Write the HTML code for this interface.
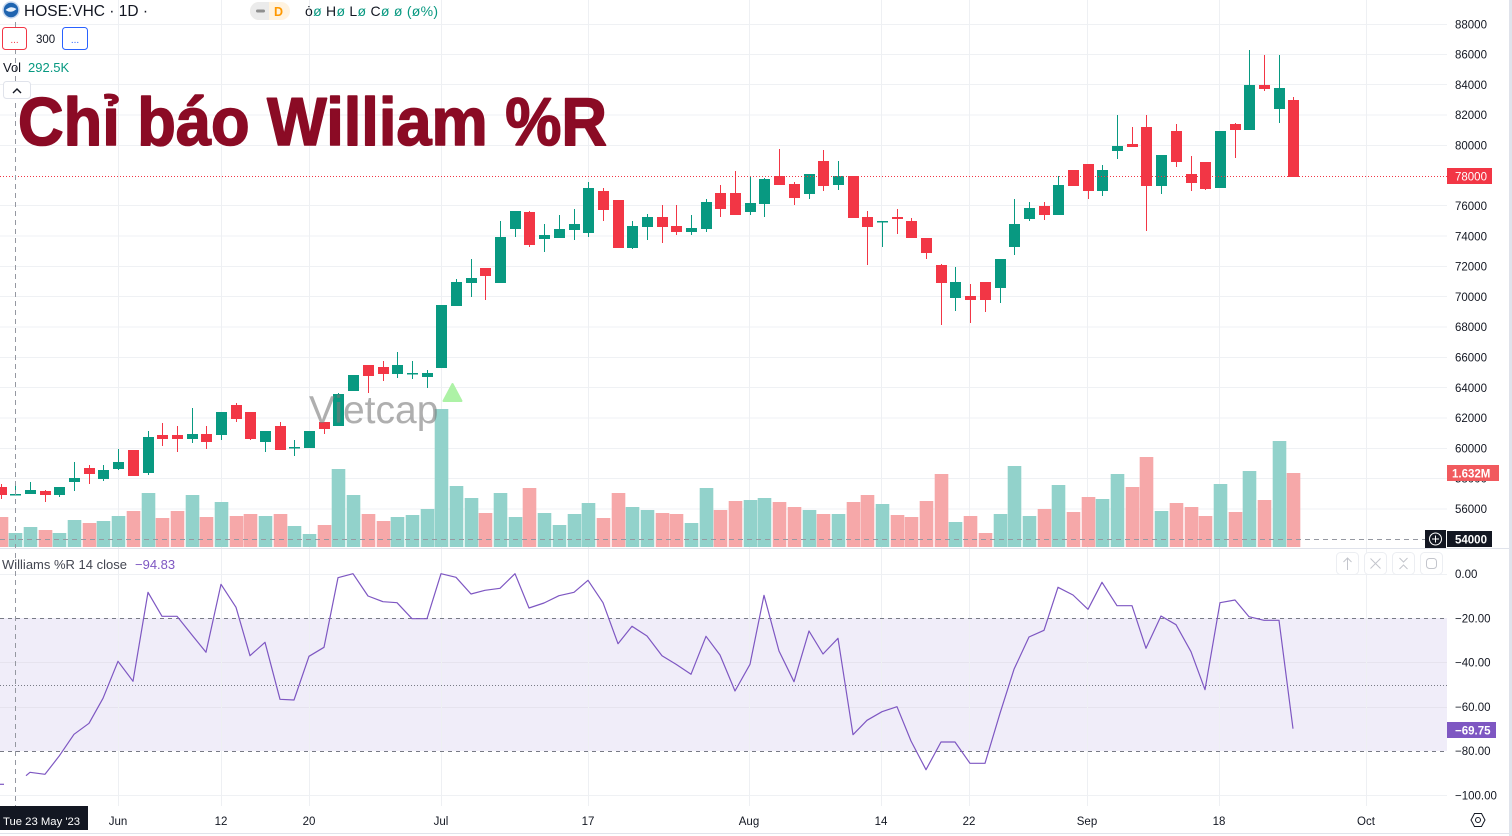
<!DOCTYPE html>
<html><head><meta charset="utf-8"><style>
html,body{margin:0;padding:0;background:#fff;}
svg{display:block;}
text{font-family:"Liberation Sans",Arial,sans-serif;}
</style></head><body>
<svg width="1512" height="836" viewBox="0 0 1512 836" xmlns="http://www.w3.org/2000/svg">
<rect width="1512" height="836" fill="#fff"/>
<!-- Williams band -->
<rect x="0" y="618" width="1447" height="133" fill="#f0edf9"/>
<!-- horizontal grid main -->
<g stroke="#eff1f4" stroke-width="1">
<line x1="0" y1="24.5" x2="1447" y2="24.5"/><line x1="0" y1="54.5" x2="1447" y2="54.5"/><line x1="0" y1="84.5" x2="1447" y2="84.5"/><line x1="0" y1="115" x2="1447" y2="115"/><line x1="0" y1="145.5" x2="1447" y2="145.5"/><line x1="0" y1="205.5" x2="1447" y2="205.5"/><line x1="0" y1="236" x2="1447" y2="236"/><line x1="0" y1="266.5" x2="1447" y2="266.5"/><line x1="0" y1="296.5" x2="1447" y2="296.5"/><line x1="0" y1="327" x2="1447" y2="327"/><line x1="0" y1="357.5" x2="1447" y2="357.5"/><line x1="0" y1="387.5" x2="1447" y2="387.5"/><line x1="0" y1="418" x2="1447" y2="418"/><line x1="0" y1="448.5" x2="1447" y2="448.5"/><line x1="0" y1="478.5" x2="1447" y2="478.5"/><line x1="0" y1="509" x2="1447" y2="509"/>
<line x1="0" y1="574.5" x2="1447" y2="574.5"/><line x1="0" y1="662.5" x2="1447" y2="662.5" stroke="#e6e3ee"/><line x1="0" y1="707.5" x2="1447" y2="707.5" stroke="#e6e3ee"/><line x1="0" y1="795.5" x2="1447" y2="795.5"/>
</g>
<!-- vertical grid -->
<g stroke="#eef0f3" stroke-width="1">
<line x1="118.5" y1="0" x2="118.5" y2="806"/><line x1="221.5" y1="0" x2="221.5" y2="806"/><line x1="309.5" y1="0" x2="309.5" y2="806"/><line x1="441.5" y1="0" x2="441.5" y2="806"/><line x1="588.5" y1="0" x2="588.5" y2="806"/><line x1="749.5" y1="0" x2="749.5" y2="806"/><line x1="881.5" y1="0" x2="881.5" y2="806"/><line x1="969.5" y1="0" x2="969.5" y2="806"/><line x1="1087.5" y1="0" x2="1087.5" y2="806"/><line x1="1219.5" y1="0" x2="1219.5" y2="806"/><line x1="1366.5" y1="0" x2="1366.5" y2="806"/>
</g>
<!-- Williams dashed levels -->
<line x1="0" y1="618.5" x2="1447" y2="618.5" stroke="#787b86" stroke-dasharray="4 4"/>
<line x1="0" y1="751.5" x2="1447" y2="751.5" stroke="#787b86" stroke-dasharray="4 4"/>
<line x1="0" y1="685.5" x2="1447" y2="685.5" stroke="#787b86" stroke-dasharray="1 2"/>
<!-- volumes green -->
<g fill="#92d2cb">
<rect x="8.7" y="533" width="13.6" height="14"/><rect x="23.7" y="527" width="13.6" height="20"/><rect x="52.7" y="533" width="13.6" height="14"/><rect x="67.7" y="520" width="13.6" height="27"/><rect x="96.7" y="521" width="13.6" height="26"/><rect x="111.7" y="516" width="13.6" height="31"/><rect x="141.7" y="493" width="13.6" height="54"/><rect x="185.7" y="495" width="13.6" height="52"/><rect x="214.7" y="502" width="13.6" height="45"/><rect x="258.7" y="516" width="13.6" height="31"/><rect x="287.7" y="526" width="13.6" height="21"/><rect x="302.7" y="534" width="13.6" height="13"/><rect x="331.7" y="469" width="13.6" height="78"/><rect x="346.7" y="495" width="13.6" height="52"/><rect x="390.7" y="517" width="13.6" height="30"/><rect x="405.7" y="515" width="13.6" height="32"/><rect x="420.7" y="509" width="13.6" height="38"/><rect x="434.7" y="409" width="13.6" height="138"/><rect x="449.7" y="486" width="13.6" height="61"/><rect x="464.7" y="498" width="13.6" height="49"/><rect x="493.7" y="493" width="13.6" height="54"/><rect x="508.7" y="517" width="13.6" height="30"/><rect x="537.7" y="513" width="13.6" height="34"/><rect x="552.7" y="525" width="13.6" height="22"/><rect x="567.7" y="514" width="13.6" height="33"/><rect x="581.7" y="503" width="13.6" height="44"/><rect x="625.7" y="507" width="13.6" height="40"/><rect x="640.7" y="510" width="13.6" height="37"/><rect x="684.7" y="523" width="13.6" height="24"/><rect x="699.7" y="488" width="13.6" height="59"/><rect x="743.7" y="500" width="13.6" height="47"/><rect x="757.7" y="498" width="13.6" height="49"/><rect x="802.7" y="510" width="13.6" height="37"/><rect x="831.7" y="514" width="13.6" height="33"/><rect x="875.7" y="504" width="13.6" height="43"/><rect x="948.7" y="522" width="13.6" height="25"/><rect x="993.7" y="514" width="13.6" height="33"/><rect x="1007.7" y="466" width="13.6" height="81"/><rect x="1022.7" y="516" width="13.6" height="31"/><rect x="1051.7" y="485" width="13.6" height="62"/><rect x="1095.7" y="499" width="13.6" height="48"/><rect x="1110.7" y="474" width="13.6" height="73"/><rect x="1154.7" y="511" width="13.6" height="36"/><rect x="1213.7" y="484" width="13.6" height="63"/><rect x="1242.7" y="471" width="13.6" height="76"/><rect x="1272.7" y="441" width="13.6" height="106"/>
</g>
<!-- volumes red -->
<g fill="#f6a8a9">
<rect x="-5.3" y="517" width="13.6" height="30"/><rect x="38.7" y="530" width="13.6" height="17"/><rect x="82.7" y="523" width="13.6" height="24"/><rect x="126.7" y="511" width="13.6" height="36"/><rect x="155.7" y="518" width="13.6" height="29"/><rect x="170.7" y="511" width="13.6" height="36"/><rect x="199.7" y="517" width="13.6" height="30"/><rect x="229.7" y="516" width="13.6" height="31"/><rect x="243.7" y="514" width="13.6" height="33"/><rect x="273.7" y="514" width="13.6" height="33"/><rect x="317.7" y="525" width="13.6" height="22"/><rect x="361.7" y="514" width="13.6" height="33"/><rect x="376.7" y="521" width="13.6" height="26"/><rect x="478.7" y="513" width="13.6" height="34"/><rect x="522.7" y="488" width="13.6" height="59"/><rect x="596.7" y="518" width="13.6" height="29"/><rect x="611.7" y="493" width="13.6" height="54"/><rect x="655.7" y="513" width="13.6" height="34"/><rect x="669.7" y="514" width="13.6" height="33"/><rect x="713.7" y="510" width="13.6" height="37"/><rect x="728.7" y="501" width="13.6" height="46"/><rect x="772.7" y="502" width="13.6" height="45"/><rect x="787.7" y="507" width="13.6" height="40"/><rect x="816.7" y="514" width="13.6" height="33"/><rect x="846.7" y="502" width="13.6" height="45"/><rect x="860.7" y="495" width="13.6" height="52"/><rect x="890.7" y="515" width="13.6" height="32"/><rect x="904.7" y="517" width="13.6" height="30"/><rect x="919.7" y="501" width="13.6" height="46"/><rect x="934.7" y="474" width="13.6" height="73"/><rect x="963.7" y="516" width="13.6" height="31"/><rect x="978.7" y="533" width="13.6" height="14"/><rect x="1037.7" y="509" width="13.6" height="38"/><rect x="1066.7" y="512" width="13.6" height="35"/><rect x="1081.7" y="497" width="13.6" height="50"/><rect x="1125.7" y="487" width="13.6" height="60"/><rect x="1139.7" y="457" width="13.6" height="90"/><rect x="1169.7" y="503" width="13.6" height="44"/><rect x="1184.7" y="507" width="13.6" height="40"/><rect x="1198.7" y="516" width="13.6" height="31"/><rect x="1228.7" y="512" width="13.6" height="35"/><rect x="1257.7" y="500" width="13.6" height="47"/><rect x="1286.7" y="473" width="13.6" height="74"/>
</g>
<!-- green candles -->
<g fill="#089981">
<rect x="15" y="484" width="1" height="11"/><rect x="10" y="494" width="11" height="1.5"/>
<rect x="30" y="482" width="1" height="12"/><rect x="25" y="490" width="11" height="4"/>
<rect x="59" y="487" width="1" height="10"/><rect x="54" y="487" width="11" height="8"/>
<rect x="74" y="462" width="1" height="29"/><rect x="69" y="478" width="11" height="4"/>
<rect x="103" y="465" width="1" height="16"/><rect x="98" y="470" width="11" height="9"/>
<rect x="118" y="449" width="1" height="21"/><rect x="113" y="462" width="11" height="7"/>
<rect x="148" y="431" width="1" height="44"/><rect x="143" y="437" width="11" height="36"/>
<rect x="192" y="408" width="1" height="35"/><rect x="187" y="434" width="11" height="5"/>
<rect x="221" y="412" width="1" height="28"/><rect x="216" y="412" width="11" height="23"/>
<rect x="265" y="431" width="1" height="21"/><rect x="260" y="431" width="11" height="11"/>
<rect x="294" y="440" width="1" height="16"/><rect x="289" y="447" width="11" height="1.5"/>
<rect x="309" y="431" width="1" height="17"/><rect x="304" y="431" width="11" height="17"/>
<rect x="338" y="393" width="1" height="33"/><rect x="333" y="394" width="11" height="32"/>
<rect x="353" y="375" width="1" height="16"/><rect x="348" y="375" width="11" height="16"/>
<rect x="397" y="352" width="1" height="26"/><rect x="392" y="365" width="11" height="9"/>
<rect x="412" y="361" width="1" height="18"/><rect x="407" y="373" width="11" height="1.5"/>
<rect x="427" y="370" width="1" height="18"/><rect x="422" y="373" width="11" height="4"/>
<rect x="441" y="305" width="1" height="63"/><rect x="436" y="305" width="11" height="63"/>
<rect x="456" y="279" width="1" height="27"/><rect x="451" y="282" width="11" height="24"/>
<rect x="471" y="259" width="1" height="38"/><rect x="466" y="278" width="11" height="5"/>
<rect x="500" y="221" width="1" height="62"/><rect x="495" y="237" width="11" height="46"/>
<rect x="515" y="211" width="1" height="26"/><rect x="510" y="211" width="11" height="18"/>
<rect x="544" y="224" width="1" height="28"/><rect x="539" y="235" width="11" height="4"/>
<rect x="559" y="215" width="1" height="23"/><rect x="554" y="229" width="11" height="9"/>
<rect x="574" y="209" width="1" height="31"/><rect x="569" y="224" width="11" height="6"/>
<rect x="588" y="182" width="1" height="55"/><rect x="583" y="188" width="11" height="45"/>
<rect x="632" y="221" width="1" height="28"/><rect x="627" y="226" width="11" height="22"/>
<rect x="647" y="214" width="1" height="26"/><rect x="642" y="217" width="11" height="10"/>
<rect x="691" y="215" width="1" height="20"/><rect x="686" y="228" width="11" height="4"/>
<rect x="706" y="199" width="1" height="33"/><rect x="701" y="202" width="11" height="27"/>
<rect x="750" y="176" width="1" height="39"/><rect x="745" y="203" width="11" height="9"/>
<rect x="764" y="178" width="1" height="39"/><rect x="759" y="179" width="11" height="25"/>
<rect x="809" y="174" width="1" height="25"/><rect x="804" y="174" width="11" height="20"/>
<rect x="838" y="161" width="1" height="29"/><rect x="833" y="176" width="11" height="9"/>
<rect x="882" y="221" width="1" height="26"/><rect x="877" y="221" width="11" height="1.5"/>
<rect x="955" y="267" width="1" height="44"/><rect x="950" y="282" width="11" height="16"/>
<rect x="1000" y="259" width="1" height="44"/><rect x="995" y="259" width="11" height="29"/>
<rect x="1014" y="199" width="1" height="56"/><rect x="1009" y="224" width="11" height="23"/>
<rect x="1029" y="202" width="1" height="19"/><rect x="1024" y="208" width="11" height="11"/>
<rect x="1058" y="176" width="1" height="39"/><rect x="1053" y="185" width="11" height="30"/>
<rect x="1102" y="165" width="1" height="31"/><rect x="1097" y="170" width="11" height="21"/>
<rect x="1117" y="115" width="1" height="44"/><rect x="1112" y="146" width="11" height="5"/>
<rect x="1161" y="155" width="1" height="39"/><rect x="1156" y="155" width="11" height="31"/>
<rect x="1220" y="131" width="1" height="57"/><rect x="1215" y="131" width="11" height="57"/>
<rect x="1249" y="50" width="1" height="80"/><rect x="1244" y="85" width="11" height="45"/>
<rect x="1279" y="55" width="1" height="68"/><rect x="1274" y="88" width="11" height="21"/>
</g>
<!-- red candles -->
<g fill="#f23645">
<rect x="1" y="484" width="1" height="15"/><rect x="-4" y="487" width="11" height="8"/>
<rect x="45" y="490" width="1" height="12"/><rect x="40" y="491" width="11" height="4"/>
<rect x="89" y="465" width="1" height="19"/><rect x="84" y="468" width="11" height="6"/>
<rect x="133" y="450" width="1" height="26"/><rect x="128" y="450" width="11" height="26"/>
<rect x="162" y="423" width="1" height="23"/><rect x="157" y="435" width="11" height="4"/>
<rect x="177" y="426" width="1" height="26"/><rect x="172" y="435" width="11" height="4"/>
<rect x="206" y="426" width="1" height="23"/><rect x="201" y="434" width="11" height="8"/>
<rect x="236" y="403" width="1" height="19"/><rect x="231" y="405" width="11" height="14"/>
<rect x="250" y="412" width="1" height="28"/><rect x="245" y="412" width="11" height="27"/>
<rect x="280" y="422" width="1" height="28"/><rect x="275" y="426" width="11" height="24"/>
<rect x="324" y="422" width="1" height="12"/><rect x="319" y="422" width="11" height="7"/>
<rect x="368" y="365" width="1" height="28"/><rect x="363" y="365" width="11" height="11"/>
<rect x="383" y="361" width="1" height="20"/><rect x="378" y="367" width="11" height="7"/>
<rect x="485" y="268" width="1" height="32"/><rect x="480" y="268" width="11" height="8"/>
<rect x="529" y="211" width="1" height="36"/><rect x="524" y="212" width="11" height="33"/>
<rect x="603" y="188" width="1" height="33"/><rect x="598" y="191" width="11" height="19"/>
<rect x="618" y="200" width="1" height="48"/><rect x="613" y="200" width="11" height="48"/>
<rect x="662" y="205" width="1" height="38"/><rect x="657" y="217" width="11" height="10"/>
<rect x="676" y="205" width="1" height="30"/><rect x="671" y="226" width="11" height="6"/>
<rect x="720" y="185" width="1" height="32"/><rect x="715" y="193" width="11" height="16"/>
<rect x="735" y="171" width="1" height="44"/><rect x="730" y="193" width="11" height="22"/>
<rect x="779" y="149" width="1" height="36"/><rect x="774" y="176" width="11" height="9"/>
<rect x="794" y="182" width="1" height="23"/><rect x="789" y="184" width="11" height="14"/>
<rect x="823" y="150" width="1" height="41"/><rect x="818" y="161" width="11" height="25"/>
<rect x="853" y="176" width="1" height="42"/><rect x="848" y="176" width="11" height="42"/>
<rect x="867" y="211" width="1" height="54"/><rect x="862" y="217" width="11" height="10"/>
<rect x="897" y="209" width="1" height="25"/><rect x="892" y="217" width="11" height="2"/>
<rect x="911" y="218" width="1" height="20"/><rect x="906" y="221" width="11" height="17"/>
<rect x="926" y="238" width="1" height="21"/><rect x="921" y="238" width="11" height="15"/>
<rect x="941" y="264" width="1" height="61"/><rect x="936" y="265" width="11" height="18"/>
<rect x="970" y="284" width="1" height="39"/><rect x="965" y="296" width="11" height="4"/>
<rect x="985" y="282" width="1" height="30"/><rect x="980" y="282" width="11" height="18"/>
<rect x="1044" y="202" width="1" height="18"/><rect x="1039" y="206" width="11" height="9"/>
<rect x="1073" y="170" width="1" height="16"/><rect x="1068" y="170" width="11" height="16"/>
<rect x="1088" y="164" width="1" height="35"/><rect x="1083" y="164" width="11" height="27"/>
<rect x="1132" y="127" width="1" height="20"/><rect x="1127" y="144" width="11" height="3"/>
<rect x="1146" y="115" width="1" height="116"/><rect x="1141" y="127" width="11" height="59"/>
<rect x="1176" y="124" width="1" height="43"/><rect x="1171" y="131" width="11" height="31"/>
<rect x="1191" y="156" width="1" height="35"/><rect x="1186" y="174" width="11" height="9"/>
<rect x="1205" y="162" width="1" height="28"/><rect x="1200" y="162" width="11" height="27"/>
<rect x="1235" y="123" width="1" height="35"/><rect x="1230" y="124" width="11" height="6"/>
<rect x="1264" y="55" width="1" height="36"/><rect x="1259" y="85" width="11" height="4"/>
<rect x="1293" y="97" width="1" height="80"/><rect x="1288" y="100" width="11" height="77"/>
</g>
<!-- watermark -->
<text x="309" y="423" font-size="39" fill="#7a7a7a" fill-opacity="0.6">Vietcap</text>
<path d="M452.5 384 L461.5 401 L443.5 401 Z" fill="#adf2a6" stroke="#adf2a6" stroke-width="2" stroke-linejoin="round"/>
<!-- price line -->
<line x1="0" y1="176.5" x2="1447" y2="176.5" stroke="#f23645" stroke-dasharray="1 2"/>
<!-- crosshair -->
<line x1="15.5" y1="22" x2="15.5" y2="806" stroke="#9598a1" stroke-dasharray="5 4"/>
<line x1="0" y1="539.5" x2="1425" y2="539.5" stroke="#9598a1" stroke-dasharray="5 4"/>
<!-- pane separator -->
<line x1="0" y1="548.5" x2="1509" y2="548.5" stroke="#e0e3eb"/>
<!-- Williams line -->
<polyline fill="none" stroke="#7e57c2" stroke-width="1.2" stroke-linejoin="round" points="26,775.7 30,772.3 45,774.3 59,756.3 74,734.3 89,723.3 103,698.3 118,661.3 133,681.3 148,592.3 162,616.3 177,616.3 192,635 206,652.3 221,584.3 236,607.3 250,655.7 265,642.3 280,699.3 294,700 309,656.3 324,647.3 338,577.7 353,573.7 368,596 383,601.7 397,602.7 412,618.7 427,618.7 441,573.7 456,577.3 471,594 485,590.3 500,588.3 515,573.7 529,608 544,603 559,595.7 574,592.3 588,580.3 603,602.7 618,643.7 632,626.3 647,636 662,655.7 676,664.3 691,674.3 706,636.3 720,655 735,691 750,664.3 764,595.3 779,651 794,681.7 809,631 823,654 838,638.3 853,734.7 867,720.3 882,711.7 897,706.7 911,741 926,769.7 941,742 955,742 970,763.3 985,763.3 1000,713.3 1014,669.3 1029,637 1044,630.3 1058,587.3 1073,595 1088,609.3 1102,582.3 1117,605.7 1132,605.7 1146,648.3 1161,616 1176,624.7 1191,651.7 1205,689.7 1220,602.7 1235,600 1249,616.7 1264,620.3 1279,620.3 1293,728.7"/>
<line x1="0" y1="784.3" x2="4" y2="784.3" stroke="#7e57c2" stroke-width="1.2"/>

<!-- header -->
<circle cx="11" cy="10" r="8" fill="#1f64b0" stroke="#c9d9ef" stroke-width="1.5"/>
<path d="M5.5 10 Q11 5 16.5 9 Q11 14 5.5 10 Z" fill="#e8f0fa"/>
<text x="24" y="16" font-size="15.5" fill="#131722">HOSE:VHC · 1D ·</text>
<rect x="250" y="2" width="40" height="18" rx="9" fill="#fff3e0"/>
<path d="M259 2 H269 V20 H259 A9 9 0 0 1 259 2 Z" fill="#ebebeb"/>
<rect x="256" y="9.5" width="9" height="3" rx="1.5" fill="#8f8f8f"/>
<text x="274" y="16" font-size="12.5" font-weight="bold" fill="#ff9800">D</text>
<text x="305" y="16" font-size="14" fill="#131722" textLength="133" lengthAdjust="spacing">ȯ<tspan fill="#089981">ø</tspan> H<tspan fill="#089981">ø</tspan> L<tspan fill="#089981">ø</tspan> C<tspan fill="#089981">ø</tspan> <tspan fill="#089981">ø (ø%)</tspan></text>
<rect x="2.5" y="27.5" width="24" height="22" rx="3" fill="#fff" stroke="#f23645"/>
<text x="14.5" y="43" font-size="10" fill="#f23645" text-anchor="middle">...</text>
<text x="36" y="43" font-size="11.5" fill="#131722">300</text>
<rect x="62.5" y="27.5" width="25" height="22" rx="3" fill="#fff" stroke="#2962ff"/>
<text x="75" y="43" font-size="10" fill="#2962ff" text-anchor="middle">...</text>
<text x="3" y="72" font-size="13" fill="#131722">Vol</text>
<text x="28" y="72" font-size="13" fill="#089981">292.5K</text>
<rect x="3.5" y="81.5" width="27" height="17" rx="3" fill="#fff" stroke="#e0e3eb"/>
<path d="M13 93 L17 89 L21 93" fill="none" stroke="#131722" stroke-width="1.4"/>
<!-- title -->
<text x="18" y="145" font-size="68" font-weight="bold" fill="#8b0b25" stroke="#8b0b25" stroke-width="1.6" stroke-linejoin="round" textLength="589" lengthAdjust="spacingAndGlyphs">Chỉ báo William %R</text>

<!-- Williams label -->
<text x="2" y="569" font-size="13" fill="#434651">Williams %R 14 close</text>
<text x="135" y="569" font-size="13" fill="#7e57c2">−94.83</text>
<!-- pane buttons -->
<g fill="#fff" stroke="#eceef2">
<rect x="1336.5" y="552.5" width="22" height="22" rx="4"/><rect x="1364.5" y="552.5" width="22" height="22" rx="4"/><rect x="1392.5" y="552.5" width="22" height="22" rx="4"/><rect x="1420.5" y="552.5" width="22" height="22" rx="4"/>
</g>
<g fill="none" stroke="#c3c5cc" stroke-width="1">
<path d="M1347.5 558 V570 M1343.5 562 L1347.5 558 L1351.5 562"/>
<path d="M1370.5 558.5 L1380.5 568.5 M1380.5 558.5 L1370.5 568.5"/>
<path d="M1399.5 558 L1403.5 562 L1407.5 558 M1399.5 569 L1403.5 565 L1407.5 569"/>
<rect x="1426.5" y="558.5" width="10" height="10" rx="3"/>
</g>

<!-- price axis -->
<g font-size="11.5" fill="#131722">
<text x="1455" y="28.3">88000</text><text x="1455" y="58.5">86000</text><text x="1455" y="88.8">84000</text><text x="1455" y="119.1">82000</text><text x="1455" y="149.4">80000</text><text x="1455" y="210">76000</text><text x="1455" y="240.3">74000</text><text x="1455" y="270.6">72000</text><text x="1455" y="300.9">70000</text><text x="1455" y="331.2">68000</text><text x="1455" y="361.5">66000</text><text x="1455" y="391.8">64000</text><text x="1455" y="422.1">62000</text><text x="1455" y="452.4">60000</text><text x="1455" y="482.7">58000</text><text x="1455" y="513">56000</text>
<text x="1455" y="578.2">0.00</text><text x="1455" y="622.4">−20.00</text><text x="1455" y="666.6">−40.00</text><text x="1455" y="710.8">−60.00</text><text x="1455" y="755">−80.00</text><text x="1455" y="799.5">−100.00</text>
</g>
<rect x="1447" y="168" width="45" height="16" fill="#f23645"/>
<text x="1455" y="180.3" font-size="11.5" fill="#fff">78000</text>
<rect x="1447" y="465" width="52" height="16" fill="#f15a5e"/>
<text x="1452" y="477.3" font-size="11.5" fill="#fff" font-weight="bold">1.632M</text>
<rect x="1447" y="531" width="45" height="16" fill="#131722"/>
<text x="1455" y="543.3" font-size="11.5" fill="#fff" font-weight="bold">54000</text>
<rect x="1425" y="530" width="21" height="18" fill="#131722"/>
<circle cx="1435.5" cy="539" r="6" fill="none" stroke="#fff"/>
<path d="M1435.5 535.5 V542.5 M1432 539 H1439" stroke="#fff"/>
<rect x="1447" y="722" width="49" height="16" fill="#7e57c2"/>
<text x="1455" y="734.3" font-size="11.5" fill="#fff" font-weight="bold">−69.75</text>

<!-- time axis -->
<g font-size="11.5" fill="#131722" text-anchor="middle">
<text x="118" y="825">Jun</text><text x="221" y="825">12</text><text x="309" y="825">20</text><text x="441" y="825">Jul</text><text x="588" y="825">17</text><text x="749" y="825">Aug</text><text x="881" y="825">14</text><text x="969" y="825">22</text><text x="1087" y="825">Sep</text><text x="1219" y="825">18</text><text x="1366" y="825">Oct</text>
</g>
<rect x="0" y="806" width="88" height="24" fill="#131722"/>
<text x="3" y="825" font-size="11.3" fill="#fff">Tue 23 May '23</text>
<path d="M1474.5 813.5 L1481.5 813.5 L1485 820 L1481.5 826.5 L1474.5 826.5 L1471 820 Z" fill="none" stroke="#131722"/>
<circle cx="1478" cy="820" r="2.5" fill="none" stroke="#131722"/>
<line x1="0" y1="833.5" x2="1509" y2="833.5" stroke="#e0e3eb"/>
<rect x="1509" y="0" width="3" height="836" fill="#e0e3eb"/>
</svg>
</body></html>
